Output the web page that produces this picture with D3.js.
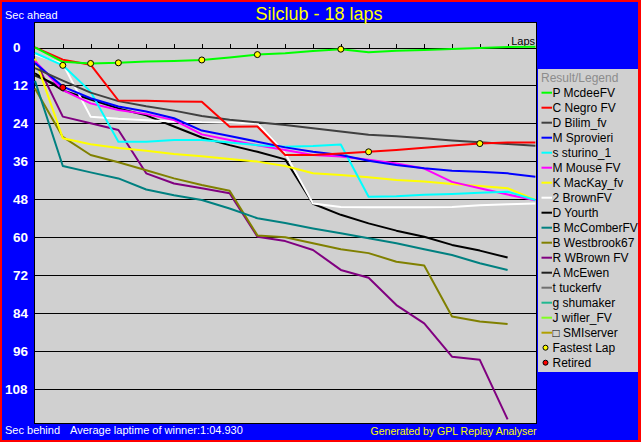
<!DOCTYPE html>
<html>
<head>
	<title>Silclub - 18 laps</title>
	<meta charset='utf-8'>
	<style>
		body { margin: 0; background: #fff; }
		svg { display: block; font-family: 'Liberation Sans', Arial, sans-serif; }
		.plot-bg { fill: #d0d0d0; stroke: #000; stroke-width: 1; shape-rendering: crispEdges; }
		.grid line { stroke: #000; stroke-width: 1; shape-rendering: crispEdges; }
		.ytick { fill: #fff; font-weight: bold; font-size: 13.5px; }
		.lap-axis line, .lap-axis path { stroke: #000; shape-rendering: crispEdges; }
		.series { fill: none; stroke-width: 2px; stroke-linejoin: round; }
		.info { fill: #fff; font-size: 11px; }
		.legend-text { fill: #000; font-size: 12px; }
	</style>
</head>
<body>
<div id="chart"></div>
<script src='https://d3js.org/d3.v7.min.js'></script>
<script>
	'use strict';

	// laps 0..18, seconds behind average laptime of winner
	const laps = d3.range(0, 19);
	const drivers = ['P McdeeFV', 'C Negro FV', 'D Bilim_fv', 'M Sprovieri', 's sturino_1', 'M Mouse FV',
		'K MacKay_fv', '2 BrownFV', 'D Yourth', 'B McComberFV', 'B Westbrook67', 'R WBrown FV',
		'A McEwen', 't tuckerfv', 'g shumaker', 'J wifler_FV', '\u25A1 SMIserver'];
	const colors = ['#00ff00', '#ff0000', '#404040', '#0000ff', '#00ffff', '#ff00ff',
		'#ffff00', '#ffffff', '#000000', '#008080', '#808000', '#800080',
		'#202020', '#707070', '#20b890', '#80ff20', '#b0a000'];

	const mcdee = [0, 4.6, 5.1, 4.9, 4.5, 4.3, 4.0, 3.2, 2.3, 1.9, 1.2, 0.6, 1.6, 1.1, 0.85, 0.5, 0.2, -0.1, -0.2];
	const negro = [0, 3.9, 5.5, 16.8, 16.9, 17.1, 17.2, 25.1, 25.0, 34, 34, 33.5, 33.0, 32.4, 31.7, 31.0, 30.4, 30.1, 30.1];
	const bilim = [6.6, 10.5, 14.3, 17.0, 18.6, 20, 21.7, 22.9, 23.7, 24.5, 25.6, 26.6, 27.6, 28.1, 28.7, 29.4, 30.0, 30.5, 31.1];
	const sprovieri = [5, 12.4, 16.1, 18.7, 20.3, 22.4, 26.3, 28, 29.8, 31.6, 33, 34, 35.8, 37.2, 38.2, 39, 39.3, 39.8, 40.9];
	const sturino = [1.8, 5.7, 14, 29.8, 29.8, 29.3, 29.3, 30.1, 30.9, 31.4, 31.2, 30.7, 47.2, 47.0, 46.6, 46.3, 45.9, 45.6, 48.2];
	const mouse = [4.4, 13.5, 17.7, 19.8, 21.1, 23, 27.5, 29.3, 30.9, 32.4, 34, 34.5, 35.5, 36.7, 38.3, 42.5, 44.5, 46.5, 48.3];
	const mackay = [3.6, 28.7, 30.6, 31.8, 32.7, 33.7, 34.4, 35.3, 36.1, 37.5, 39.8, 40.3, 41, 41.9, 42.4, 43.2, 43.8, 44.5, 48.2];
	const brown2 = [2.3, 5.2, 21.9, 22.6, 23.0, 23.4, 23.7, 23.8, 24.0, 33.5, 49.3, 50.4, 50.5, 50.5, 50.5, 50.4, 49.9, 49.6, 49.3];
	const yourth = [8.2, 13.6, 16.5, 19.3, 21.5, 25, 28.5, 30.9, 33, 35.4, 49.4, 52.9, 55.6, 57.9, 59.8, 62.4, 64.2, 66.4, null];
	const mccomber = [10.6, 37.5, 39.5, 41.4, 44.9, 46.7, 48.2, 50.9, 54, 55.5, 57.2, 58.7, 60.3, 61.9, 63.8, 65.6, 68.2, 70.3, null];
	const westbrook = [13, 28.3, 34, 36.3, 38.8, 41.4, 43.5, 45.3, 59.4, 60, 61.9, 63.8, 65, 67.7, 68.9, 85, 86.6, 87.4, null];
	const wbrown = [3.9, 21.9, 24, 26.1, 39.8, 43, 44.5, 46.1, 59.8, 61.2, 64, 70.3, 72.8, 81.4, 87.2, 97.7, 98.7, 117.5, null];
	const mcewen = [8.9, 12.7];
	const seriesValues = [mcdee, negro, bilim, sprovieri, sturino, mouse, mackay, brown2, yourth,
		mccomber, westbrook, wbrown, mcewen, [], [], [], []];

	// fastest lap markers and retirements: [driver index, lap]
	const fastestLaps = [[4, 1], [0, 2], [0, 3], [0, 6], [0, 8], [0, 11], [1, 12], [1, 16]];
	const retired = [[12, 1]];
	const yTicks = [0, 12, 24, 36, 48, 60, 72, 84, 96, 108];

	const W = 641, H = 442;
	const plot = {left: 34.5, right: 536.5, top: 22.5, bottom: 423};

	const xScale = d3.scaleLinear().domain([0, 18]).range([35, 535.4]);
	const yScale = d3.scaleLinear().domain([0, 108]).range([47.3, 389.3]);

	const svg = d3.select('#chart').append('svg')
		.attr('width', W)
		.attr('height', H);

	// red border + blue panel
	svg.append('rect').attr('width', W).attr('height', H).attr('fill', '#ff0000');
	svg.append('rect').attr('x', 2).attr('y', 2).attr('width', W - 5).attr('height', H - 4).attr('fill', '#0000ff');

	svg.append('rect')
		.attr('class', 'plot-bg')
		.attr('x', plot.left).attr('y', plot.top)
		.attr('width', plot.right - plot.left).attr('height', plot.bottom - plot.top);

	// horizontal gridlines
	svg.append('g').attr('class', 'grid')
		.selectAll('line')
		.data(yTicks.filter(d => d > 0))
		.enter().append('line')
		.attr('x1', plot.left).attr('x2', plot.right)
		.attr('y1', d => Math.round(yScale(d)) + 0.5)
		.attr('y2', d => Math.round(yScale(d)) + 0.5);

	// y labels
	svg.append('g')
		.selectAll('text')
		.data(yTicks)
		.enter().append('text')
		.attr('class', 'ytick')
		.attr('x', d => String(d).length >= 3 ? 5 : 13)
		.attr('y', d => yScale(d) + 5)
		.text(d => d);

	// lap axis along 0
	const lapAxis = d3.axisTop(xScale)
		.tickValues(laps.slice(1, 18))
		.tickSize(4)
		.tickSizeOuter(0)
		.tickFormat('');
	svg.append('g')
		.attr('class', 'lap-axis')
		.attr('transform', 'translate(0,' + (Math.round(yScale(0)) + 0.5) + ')')
		.call(lapAxis);
	svg.append('text')
		.attr('class', 'info')
		.attr('fill', '#000')
		.style('fill', '#000')
		.attr('x', 535).attr('y', 45)
		.attr('text-anchor', 'end')
		.text('Laps');

	const line = d3.line()
		.defined(d => d != null)
		.x((d, i) => xScale(laps[i]))
		.y(d => yScale(d));

	// draw lines, last driver underneath
	const order = d3.range(seriesValues.length).reverse();
	svg.append('g')
		.selectAll('path')
		.data(order)
		.enter().append('path')
		.attr('class', 'series')
		.attr('stroke', i => colors[i])
		.attr('d', i => line(seriesValues[i]));

	svg.append('g')
		.selectAll('circle')
		.data(fastestLaps)
		.enter().append('circle')
		.attr('cx', d => xScale(d[1]))
		.attr('cy', d => yScale(seriesValues[d[0]][d[1]]))
		.attr('r', 3)
		.attr('fill', '#ffff00')
		.attr('stroke', '#000')
		.attr('stroke-width', 1);

	svg.append('g')
		.selectAll('circle')
		.data(retired)
		.enter().append('circle')
		.attr('cx', d => xScale(d[1]))
		.attr('cy', d => yScale(seriesValues[d[0]][d[1]]))
		.attr('r', 3)
		.attr('fill', '#ff0000')
		.attr('stroke', '#000')
		.attr('stroke-width', 1);

	// texts
	svg.append('text')
		.attr('x', 319).attr('y', 20)
		.attr('text-anchor', 'middle')
		.attr('fill', '#ffff00')
		.style('font-size', '18px')
		.text('Silclub - 18 laps');
	svg.append('text').attr('class', 'info').attr('x', 5).attr('y', 19).text('Sec ahead');
	svg.append('text').attr('class', 'info').attr('x', 5).attr('y', 434).text('Sec behind');
	svg.append('text').attr('class', 'info').attr('x', 70).attr('y', 434).text('Average laptime of winner:1:04.930');
	svg.append('text')
		.attr('x', 536.5).attr('y', 435)
		.attr('text-anchor', 'end')
		.attr('fill', '#ffff00')
		.style('font-size', '10.5px')
		.text('Generated by GPL Replay Analyser');

	// legend
	const legend = svg.append('g');
	legend.append('rect')
		.attr('x', 538).attr('y', 69)
		.attr('width', 100).attr('height', 303)
		.attr('fill', '#d0d0d0');
	legend.append('text')
		.attr('class', 'legend-text')
		.attr('x', 541).attr('y', 81.6)
		.attr('fill', '#8c8c8c')
		.style('fill', '#8c8c8c')
		.text('Result/Legend');

	const rowY = i => 92.7 + 15 * i;
	const rows = legend.selectAll('g.row')
		.data(drivers)
		.enter().append('g')
		.attr('class', 'row');
	rows.append('line')
		.attr('x1', 541.5).attr('x2', 552)
		.attr('y1', (d, i) => rowY(i)).attr('y2', (d, i) => rowY(i))
		.attr('stroke', (d, i) => colors[i])
		.attr('stroke-width', 2);
	rows.append('text')
		.attr('class', 'legend-text')
		.attr('x', 552.5)
		.attr('y', (d, i) => rowY(i) + 4.3)
		.text(d => d);

	const extra = [['Fastest Lap', '#ffff00'], ['Retired', '#ff0000']];
	extra.forEach((e, k) => {
		const y = rowY(drivers.length + k);
		legend.append('circle')
			.attr('cx', 545.5).attr('cy', y).attr('r', 2.5)
			.attr('fill', e[1]).attr('stroke', '#000').attr('stroke-width', 1);
		legend.append('text')
			.attr('class', 'legend-text')
			.attr('x', 552.5).attr('y', y + 4.3)
			.text(e[0]);
	});
</script>
</body>
</html>
